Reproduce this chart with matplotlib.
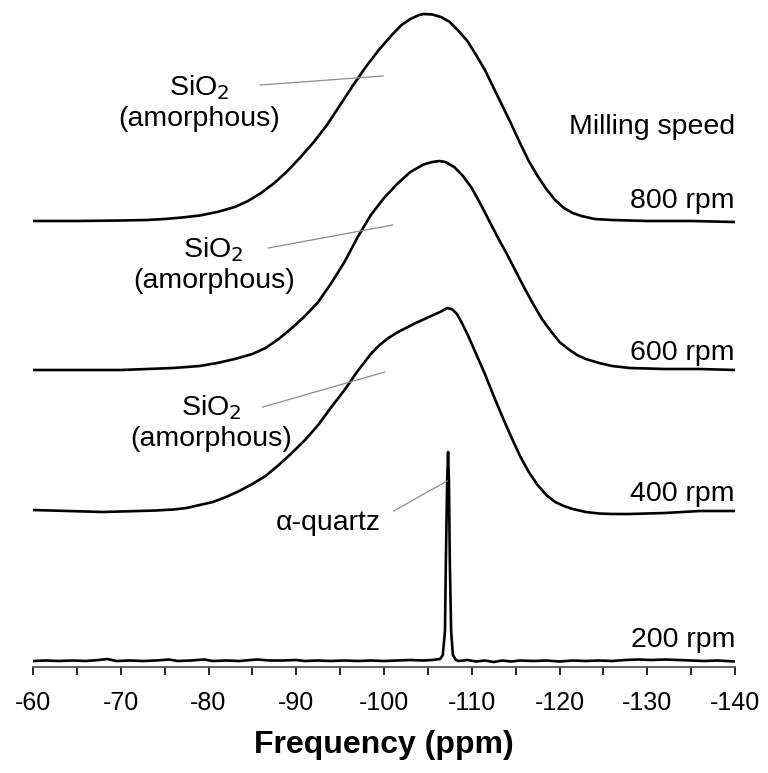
import matplotlib

matplotlib.use("Agg")
import matplotlib.pyplot as plt
from matplotlib.ticker import MultipleLocator

plt.rcParams["font.family"] = ["Liberation Sans", "DejaVu Sans"]
plt.rcParams["axes.unicode_minus"] = False

# 29Si NMR spectra (ppm, intensity in arbitrary units)
ppm_800 = [-60, -65, -70, -73, -75, -77, -79, -81, -83, -84.5,
           -86, -87.5, -89, -90.5, -92, -93.5, -95, -96.5, -98, -99.5,
           -101, -102, -103, -104, -104.5, -105.5, -106.5, -107.5, -108.5, -109.5,
           -110.5, -111.5, -112.5, -113.5, -114.5, -115.5, -116.5, -117.5, -118.5, -119.5,
           -120.5, -121.5, -122.5, -124, -126, -130, -135, -140]
int_800 = [0, 0, 0.5, 1, 2, 3.5, 5.5, 9, 14, 20,
           28, 38, 50, 64, 79, 96, 116, 136, 155, 172,
           187, 196, 202, 206, 207, 206.5, 204, 199, 190, 180,
           166, 151, 133, 115, 97, 78, 60, 45, 32, 21,
           13, 8, 5, 2, 1, 0, 0, -1]

ppm_600 = [-60, -65, -70, -73, -76, -79, -81, -83, -85, -86.5,
           -88, -89.5, -91, -92.5, -94, -95.5, -97, -98.5, -100, -101.5,
           -103, -104.5, -105.5, -106.3, -107, -108, -109, -110, -111, -112,
           -113, -114, -115, -116, -117, -118, -119, -120, -121, -122,
           -123, -124.5, -126, -128, -132, -136, -140]
int_600 = [0, 0, 0, 1, 2, 4, 7, 11, 16, 22,
           31, 42, 54, 68, 87, 108, 133, 155, 172, 186,
           198, 205.5, 208, 209, 208, 203, 194, 182, 166, 149,
           132, 116, 99, 82, 66, 51, 39, 28, 21, 15,
           11, 7, 4, 2, 1, 1, 0]

ppm_400 = [-60, -62, -64, -66, -68, -70, -72, -74, -76, -77.5,
           -79, -80.5, -82, -83.5, -85, -86.5, -88, -89.5, -91, -92.5,
           -94, -95.5, -97, -98.5, -99.5, -100.5, -101.5, -102.5, -103.5, -104.5,
           -105.5, -106.5, -107.2, -107.8, -108.3, -108.7, -109.5, -110.5, -111.5, -112.5,
           -113.5, -114.5, -115.5, -116.5, -117.5, -118.5, -119.5, -120.5, -121.5, -123,
           -124.5, -126, -128, -130, -132, -134, -136, -138, -140]
int_400 = [0, -0.5, -1, -1.5, -2, -1.5, -1, -0.5, 0.5, 2,
           5, 8, 13, 19, 26, 34, 45, 57, 70, 85,
           103, 120, 139, 156, 165, 172, 177.5, 182, 186.5, 190.5,
           194.5, 198.5, 202, 200.5, 196, 190, 176, 156, 136, 114,
           93, 73, 54, 38, 25, 15, 8, 4, 1, -2,
           -3.5, -4, -4, -3.5, -3, -2, -1, -1, -1]

ppm_200 = [-60.0, -61.5, -63.0, -64.5, -66.0, -67.5, -68.5, -69.5, -71.0, -72.5,
           -74.0, -75.5, -76.5, -78.0, -79.5, -80.5, -82.0, -83.5, -85.5, -87.0,
           -88.5, -90.0, -91.0, -92.5, -94.0, -95.5, -97.0, -98.5, -100.0, -101.5,
           -103.0, -104.5, -105.5, -106.4, -106.7, -106.95, -107.05, -107.2, -107.3,
           -107.4, -107.5, -107.65, -107.85, -108.2, -108.5, -109.5, -110.5, -111.5,
           -112.5, -113.5, -114.5, -115.5, -117.0, -118.5, -120.0, -121.5, -123.0,
           -124.5, -126.0, -127.5, -129.0, -130.5, -132.0, -133.5, -135.0, -136.5,
           -138.0, -140.0]
int_200 = [0, 0.5, 0, 0.5, 0, 1, 2, 0, 0.5, 0,
           0.5, 1.5, 0, 0.5, 1.5, 0, 0.5, 0, 1.5, 0.5,
           0.5, 1, 0, 0.5, 0, 0.5, 0, 0.5, 0, 0.5,
           1, 0.5, 1, 2, 6, 30, 100, 180, 209,
           180, 100, 30, 6, 1, 0, 1, -0.5, 0.5,
           -1, 0.5, -0.5, 0.5, 0, 0.5, -0.5, 0.5, 0,
           0.5, 0, 1, 1.5, 1, 1.5, 1, 0.5, 0,
           0.5, -0.5]

speeds = ["200 rpm", "400 rpm", "600 rpm", "800 rpm"]
spectra = [(ppm_200, int_200), (ppm_400, int_400), (ppm_600, int_600), (ppm_800, int_800)]
offsets = [6, 157, 297, 446]
label_y = [20, 166, 307, 459]

fig = plt.figure(figsize=(7.68, 7.73), dpi=100)
ax = fig.add_axes([33 / 768, 106 / 773, 702 / 768, 662 / 773])

for (x, y), off in zip(spectra, offsets):
    ax.plot(x, [v + off for v in y], color="black", lw=1.9,
            solid_joinstyle="round", solid_capstyle="butt")

fs = 20.5
for name, ly in zip(speeds, label_y):
    ax.text(-140, ly, name, ha="right", va="baseline", fontsize=fs)
ax.text(-140, 533, "Milling speed", ha="right", va="baseline", fontsize=fs)

# annotations: text centre, baseline, leader line
gray = "#8c8c8c"
for cx, yb, line in [
    (-78.9, 572, ((-85.9, -99.9), (582, 591))),
    (-80.6, 410, ((-86.8, -101.0), (419, 442))),
    (-80.3, 252, ((-86.2, -100.1), (260, 295))),
]:
    ax.text(cx, yb, "SiO$_2$", ha="center", va="baseline", fontsize=fs)
    ax.text(cx, yb - 31, "(amorphous)", ha="center", va="baseline", fontsize=fs)
    ax.plot(line[0], line[1], color=gray, lw=0.9)

ax.text(-93.6, 137, "\u03b1-quartz", ha="center", va="baseline", fontsize=fs)
ax.plot((-101.1, -107.2), (156, 186), color=gray, lw=0.9)

ax.set_xlim(-60, -140)
ax.set_ylim(0, 662)
ax.xaxis.set_major_locator(MultipleLocator(10))
ax.xaxis.set_minor_locator(MultipleLocator(5))
ax.tick_params(axis="x", which="both", direction="out", length=6, width=1.2,
               colors="black", labelsize=18, pad=11)
ax.set_yticks([])
for s in ("left", "right", "top"):
    ax.spines[s].set_visible(False)
ax.spines["bottom"].set_color("#555555")
ax.spines["bottom"].set_linewidth(1.3)
ax.patch.set_alpha(0)

fig.text(384 / 768, 1 - 745 / 773, "Frequency (ppm)", ha="center", va="center",
         fontsize=23, fontweight="bold")

fig.savefig("out.png", dpi=100)
